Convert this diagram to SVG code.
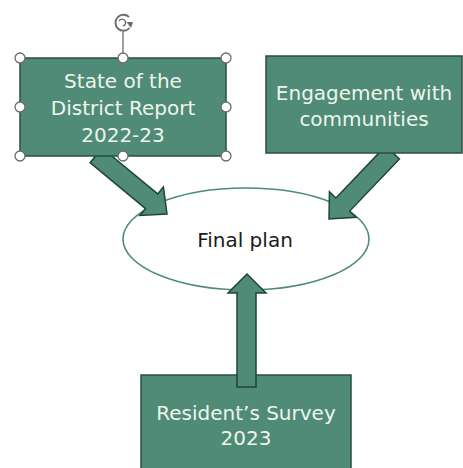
<svg xmlns="http://www.w3.org/2000/svg" width="463" height="468" viewBox="0 0 463 468">
<defs>
<style>
.box{fill:#4f8b76;stroke:#28503f;stroke-width:1.5}
.arrow{fill:#4f8b76;stroke:#1f4536;stroke-width:1.5;stroke-linejoin:miter}
.lbl{font-family:"DejaVu Sans","Open Sans",sans-serif;font-size:20px;fill:#eef5ef;text-anchor:middle}
.dark{font-family:"DejaVu Sans","Open Sans",sans-serif;font-size:20px;fill:#1a1a1a;text-anchor:middle}
.handle{fill:#fff;stroke:#6b6b6b;stroke-width:1.3}
</style>
<path id="arr" d="M0,-9.5 L72,-9.5 L72,-18.5 L92,0 L72,18.5 L72,9.5 L0,9.5 Z"/>
</defs>
<rect width="463" height="468" fill="#fff"/>
<g id="final-plan">
<ellipse cx="246" cy="239" rx="123" ry="51" fill="#fff" stroke="#4f8b76" stroke-width="1.6"/>
<text class="dark" x="245" y="247">Final plan</text>
</g>
<g id="connectors">
<use href="#arr" class="arrow" transform="translate(167,214) rotate(39.6) translate(-92,0)"/>
<use href="#arr" class="arrow" transform="translate(329,219) rotate(133.7) translate(-92,0)"/>
</g>
<g id="state-report">
<rect class="box" x="20" y="58" width="206" height="98"/>
<text class="lbl" x="123" y="88">State of the</text>
<text class="lbl" x="123" y="115">District Report</text>
<text class="lbl" x="123" y="142">2022-23</text>
<g id="selection">
<line x1="123" y1="32" x2="123" y2="53" stroke="#6b6b6b" stroke-width="1.3"/>
<path d="M129.5,28 A8,8 0 1 1 129,17" fill="none" stroke="#6b6b6b" stroke-width="1.8"/>
<path d="M119,21 A3.5,3.5 0 1 1 123,26" fill="none" stroke="#6b6b6b" stroke-width="1.4"/>
<path d="M126.5,22 L133,22 L131,28 Z" fill="#6b6b6b"/>
<circle class="handle" cx="20" cy="58" r="5"/>
<circle class="handle" cx="123" cy="58" r="5"/>
<circle class="handle" cx="226" cy="58" r="5"/>
<circle class="handle" cx="20" cy="107" r="5"/>
<circle class="handle" cx="226" cy="107" r="5"/>
<circle class="handle" cx="20" cy="156" r="5"/>
<circle class="handle" cx="123" cy="156" r="5"/>
<circle class="handle" cx="226" cy="156" r="5"/>
</g>
</g>
<g id="engagement">
<rect class="box" x="266" y="56" width="196" height="97"/>
<text class="lbl" x="364" y="100">Engagement with</text>
<text class="lbl" x="364" y="126">communities</text>
</g>
<g id="survey">
<rect class="box" x="141" y="375" width="210" height="100"/>
<text class="lbl" x="246" y="420">Resident’s Survey</text>
<text class="lbl" x="246" y="445">2023</text>
</g>
<g id="connectors-up">
<path class="arrow" d="M237,387 L237,293 L228,293 L247,274 L266,293 L256,293 L256,387 Z"/>
</g>
</svg>
